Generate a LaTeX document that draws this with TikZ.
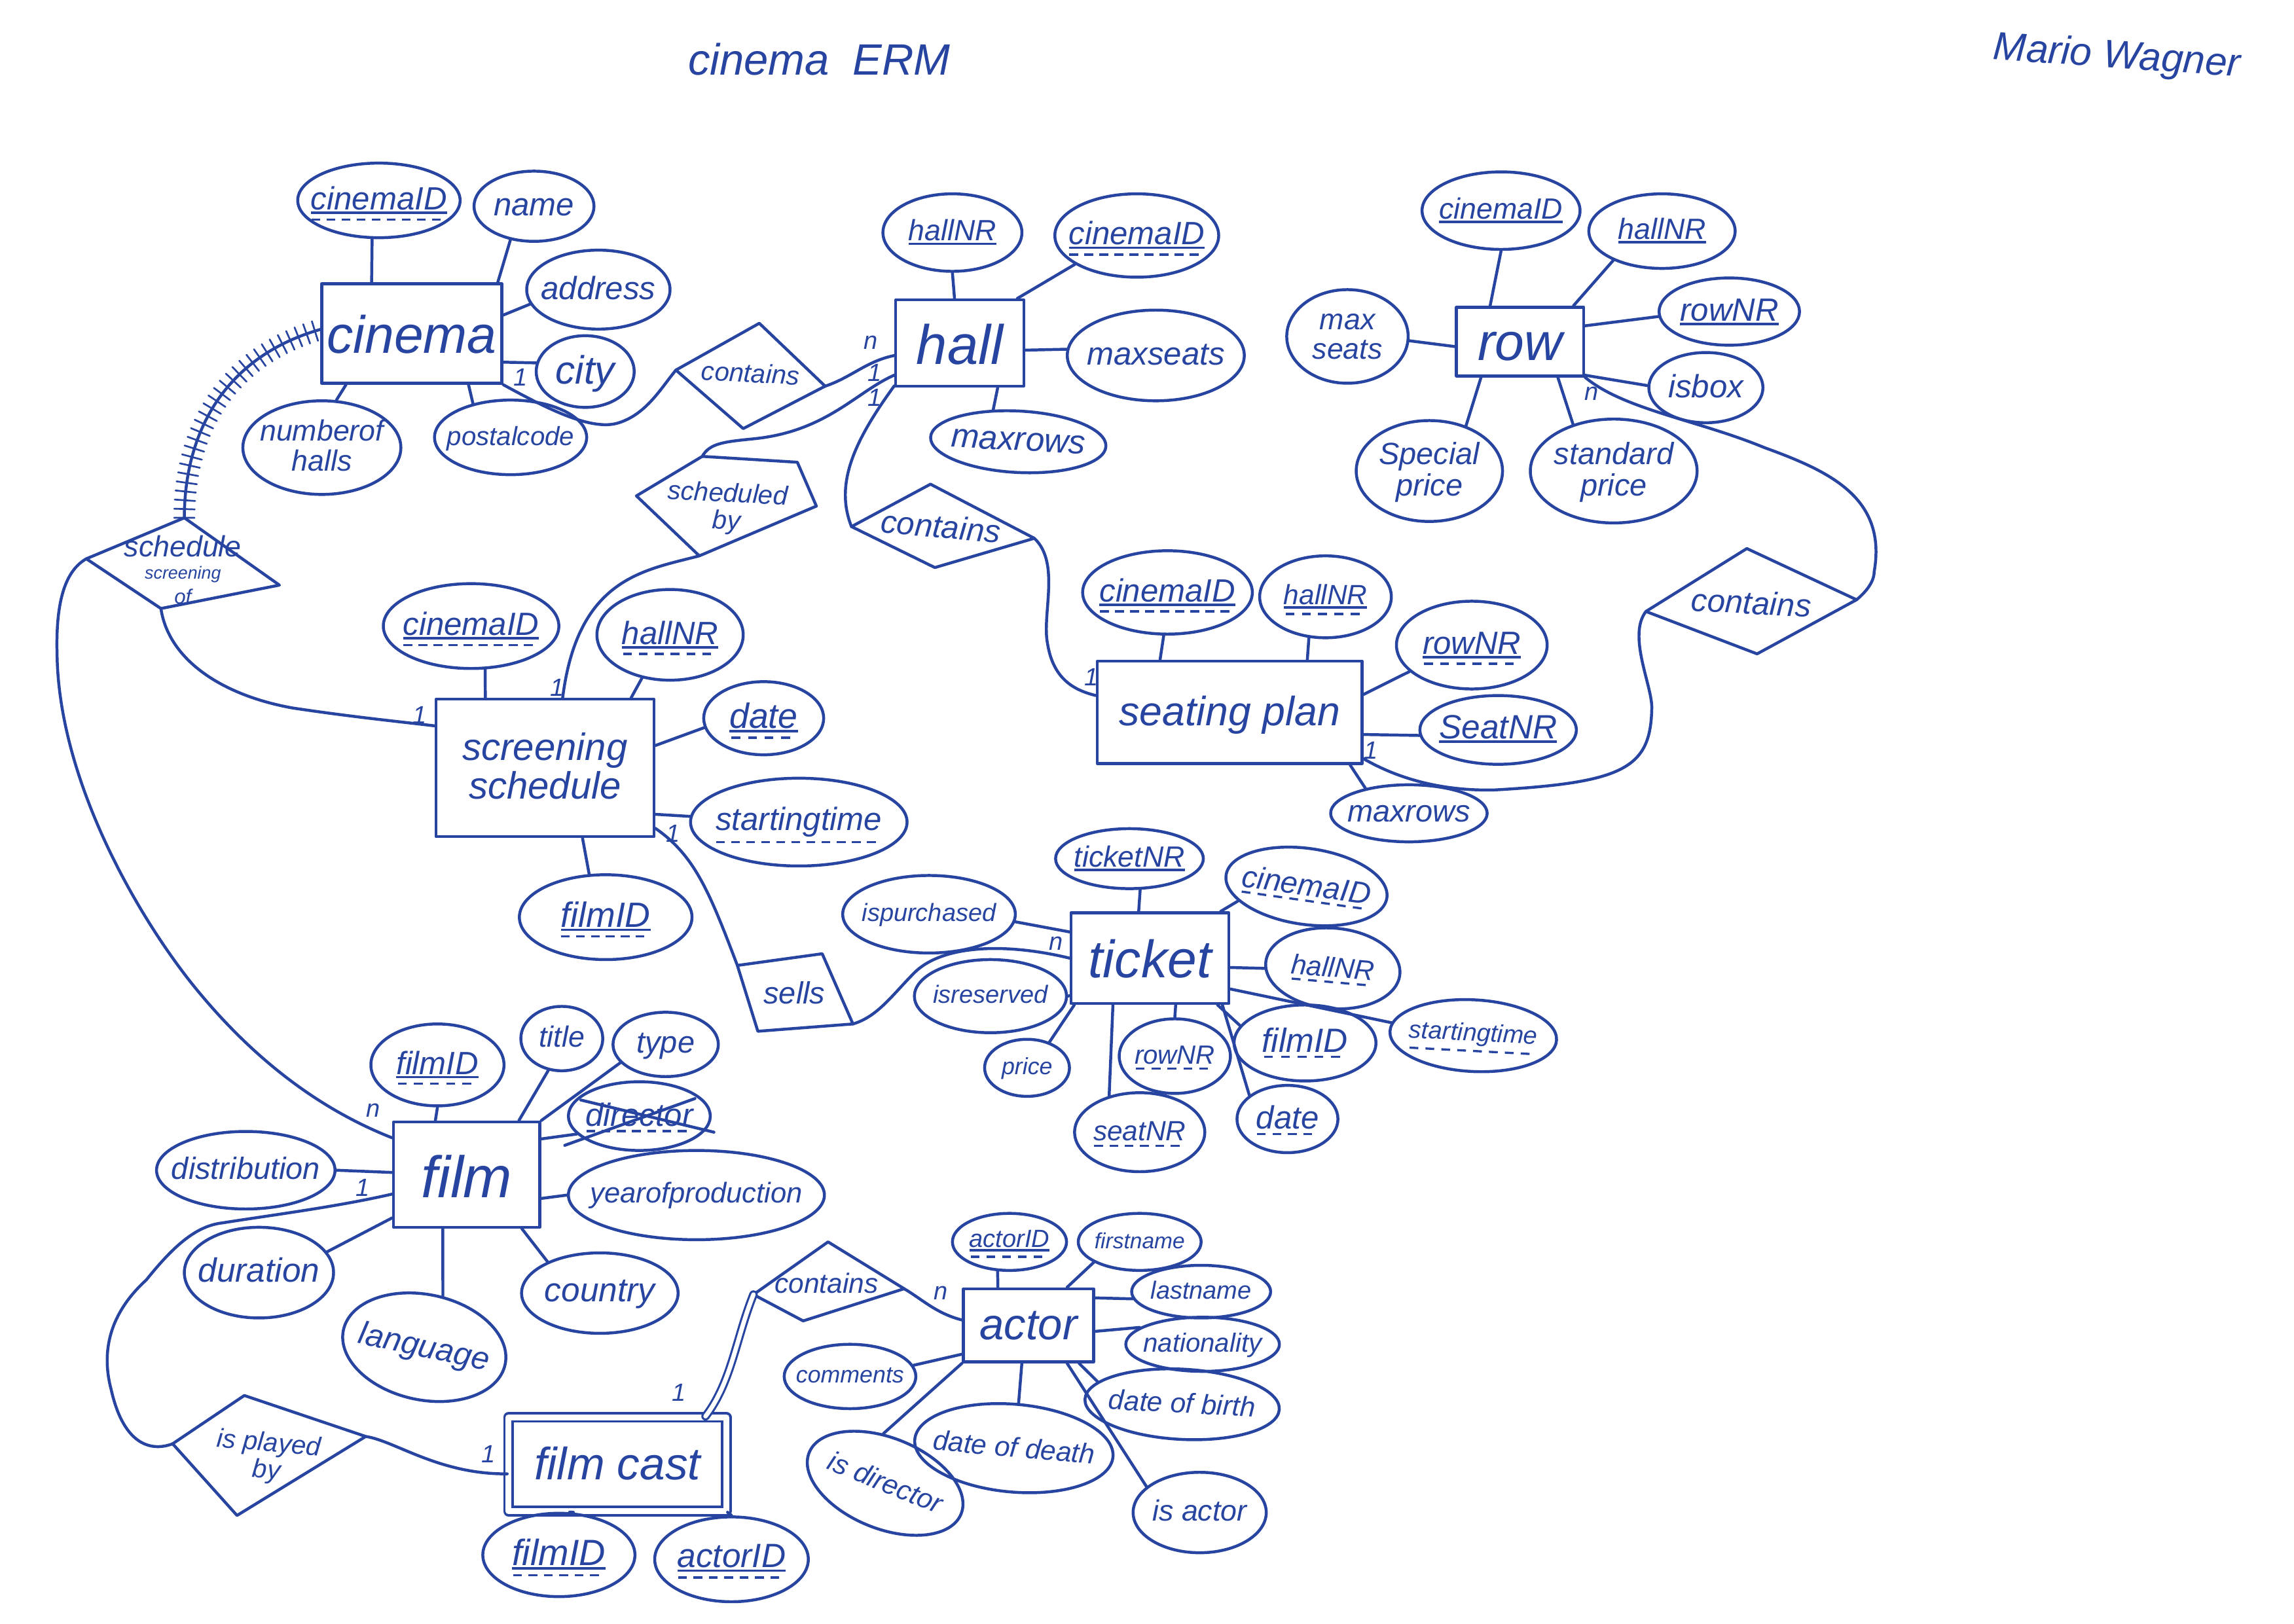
\documentclass[tikz,border=0pt]{standalone}
\usepackage{graphicx}
\usepackage{fontspec}
\setmainfont{Liberation Sans}
\usetikzlibrary{calc,shapes.geometric,decorations.pathreplacing}
\definecolor{pen}{RGB}{38,68,160}
% underlines
\newsavebox\ulbox
\newcommand\dashrow{\hbox to \wd\ulbox{\xleaders\hbox{\vrule width 6pt height 1.5pt depth 0pt\kern 4pt}\hfill}}
\newcommand\pk[1]{\sbox\ulbox{#1}\vtop{\hbox{\usebox\ulbox}\kern 1pt\hrule height 1.7pt}}
\newcommand\fk[1]{\sbox\ulbox{#1}\vtop{\hbox{\usebox\ulbox}\kern 2.5pt\dashrow}}
\newcommand\pf[1]{\sbox\ulbox{#1}\vtop{\hbox{\usebox\ulbox}\kern 1pt\hrule height 1.7pt\kern 3pt\dashrow}}
% centred text of no size, so that a shape keeps the size that is asked for
\newcommand\ctext[1]{\smash{\makebox[0pt]{\raisebox{-.33em}{$\vcenter{\hbox{\begin{tabular}{@{}c@{}}#1\end{tabular}}}$}}}}
\newcommand\fsz[1]{\fontsize{#1}{#1}\selectfont}
\tikzset{
  inkline/.style={draw=pen,line width=2pt,line cap=round,line join=round},
  attrbox/.style={ellipse,inkline,inner sep=0pt,text=pen},
  entbox/.style={rectangle,inkline,inner sep=0pt,text=pen},
  relword/.style={inner sep=0pt,text=pen},
  cardword/.style={inner sep=0pt,text=pen,font=\fsz{17}\itshape},
  link/.style={inkline},
  hatched/.style={inkline,postaction={draw=pen,line width=1.2pt,decorate,decoration={ticks,segment length=6pt,amplitude=7pt}}},
  doubled/.style={draw=pen,line width=1.4pt,double=white,double distance=3pt,line cap=round}
}
% \atb[opts]{name}{x}{y}{w}{h}{size}{text}
\newcommand\atb[8][]{\node[attrbox,minimum width=#5pt,minimum height=#6pt,font=\fsz{#7}\itshape,#1] (#2) at (#3,#4) {\ctext{#8}};}
\newcommand\ent[8][]{\node[entbox,minimum width=#5pt,minimum height=#6pt,font=\fsz{#7}\itshape,#1] (#2) at (#3,#4) {\ctext{#8}};}
\newcommand\rel[6][]{\node[relword,font=\fsz{#5}\itshape,#1] (#2) at (#3,#4) {\ctext{#6}};}
\newcommand\crd[4]{\node[cardword] (#1) at (#2,#3) {#4};}
% points along the sides of a box
\newcommand\eT[2]{($(#1.north west)!#2!(#1.north east)$)}
\newcommand\eB[2]{($(#1.south west)!#2!(#1.south east)$)}
\newcommand\eL[2]{($(#1.north west)!#2!(#1.south west)$)}
\newcommand\eR[2]{($(#1.north east)!#2!(#1.south east)$)}
\begin{document}
\begin{tikzpicture}[x=1pt,y=-1pt]
\useasboundingbox (0,0) rectangle (1568,1109.8);
\fill[white] (0,0) rectangle (1568,1109.8);
% titles
\rel{title}{560}{41}{30}{cinema\hspace{16pt}ERM}
\rel[rotate=-4]{author}{1447}{38}{27}{Mario Wagner}
% entities
\ent{cinema}{281.5}{228}{123}{68}{36}{cinema}
\ent{hall}{656}{234.5}{87.5}{59}{38}{hall}
\ent{row}{1039}{233.5}{87}{47}{36}{row}
\ent{seating}{840.5}{487}{181}{70}{28}{seating plan}
\ent{screening}{372.5}{525}{149}{94}{26}{screening\\schedule}
\ent{ticket}{786}{655}{108}{62}{36}{ticket}
\ent{actor}{703}{906}{89}{50}{30}{actor}
\ent{film}{319}{803}{100}{72}{40}{film}
\ent[double=white,double distance=4pt,line width=1.6pt]{filmcast}{422}{1001}{149}{64}{31}{film cast}
% relationship shapes
\coordinate (d1l) at (462,253); \coordinate (d1t) at (519,221); \coordinate (d1r) at (564,264); \coordinate (d1b) at (508,293);
\draw[inkline] (d1l)--(d1t)--(d1r)--(d1b)--cycle;
\rel[rotate=-3]{contA}{513}{256}{18}{contains}
\coordinate (d2l) at (435,339); \coordinate (d2t) at (480,312); \coordinate (d2u) at (545,316); \coordinate (d2r) at (558,346); \coordinate (d2b) at (478,380);
\draw[inkline] (d2l)--(d2t)--(d2u)--(d2r)--(d2b)--cycle;
\rel[rotate=-3]{schedby}{497}{347}{18}{scheduled\\by}
\coordinate (d3l) at (582,360); \coordinate (d3t) at (636,331); \coordinate (d3r) at (707,368); \coordinate (d3b) at (639,388);
\draw[inkline] (d3l)--(d3t)--(d3r)--(d3b)--cycle;
\rel[rotate=-5]{contB}{643}{361}{22}{contains}
\coordinate (d4l) at (1125,418); \coordinate (d4t) at (1194,375); \coordinate (d4r) at (1269,410); \coordinate (d4b) at (1201,447);
\draw[inkline] (d4l)--(d4t)--(d4r)--(d4b)--cycle;
\rel[rotate=-3]{contC}{1197}{413}{22}{contains}
\coordinate (d5l) at (59,382); \coordinate (d5t) at (126,354); \coordinate (d5r) at (191,400); \coordinate (d5b) at (110,416);
\draw[inkline] (d5l)--(d5t)--(d5r)--(d5b)--cycle;
\rel{schedof}{125}{391}{20}{schedule\\[-5pt]{\fsz{12}screening}\\[-3pt]{\fsz{14}of}}
\coordinate (d6a) at (504,660); \coordinate (d6b) at (562,652); \coordinate (d6c) at (583,700); \coordinate (d6d) at (518,705);
\draw[inkline] (d6a)--(d6b)--(d6c)--(d6d)--cycle;
\rel{sells}{543}{680}{21}{sells}
\coordinate (d7l) at (515,885); \coordinate (d7t) at (566,849); \coordinate (d7r) at (618,881); \coordinate (d7b) at (549,903);
\draw[inkline] (d7l)--(d7t)--(d7r)--(d7b)--cycle;
\rel{contD}{565}{878}{19}{contains}
\coordinate (d8l) at (118,987); \coordinate (d8t) at (167,954); \coordinate (d8r) at (250,982); \coordinate (d8b) at (162,1036);
\draw[inkline] (d8l)--(d8t)--(d8r)--(d8b)--cycle;
\rel[rotate=-5]{played}{183}{996}{18}{is played\\by}
% cinema attributes
\atb{cinemaIDa}{259}{137}{111}{51}{22}{\pf{cinemaID}}
\atb{namea}{365}{141}{82}{48}{22}{name}
\atb{addressa}{409}{198}{98}{54}{22}{address}
\atb{citya}{400}{254}{67}{49}{27}{city}
\atb{hallsa}{220}{306}{108}{64}{20}{numberof\\halls}
\atb{postala}{349}{299}{104}{51}{18}{postalcode}
\draw[link] (cinemaIDa.260) -- \eT{cinema}{.28};
\draw[link] (namea.235) -- \eT{cinema}{.97};
\draw[link] (addressa.192) -- \eR{cinema}{.32};
\draw[link] (citya.170) -- \eR{cinema}{.78};
\draw[link] (hallsa.73) -- \eB{cinema}{.14};
\draw[link] (postala.138) -- \eB{cinema}{.81};
% hall attributes
\atb{hallNRb}{651}{159}{95}{53}{20}{\pk{hallNR}}
\atb{cinemaIDb}{777}{161}{112}{57}{22}{\pf{cinemaID}}
\atb{maxseatsb}{790}{243}{121}{62}{22}{maxseats}
\atb[rotate=-3]{maxrowsb}{696}{302}{120}{42}{23}{maxrows}
\draw[link] (hallNRb.270) -- \eT{hall}{.46};
\draw[link] (cinemaIDb.205) -- \eT{hall}{.94};
\draw[link] (maxseatsb.176) -- \eR{hall}{.58};
\draw[link] (maxrowsb.131) -- \eB{hall}{.79};
% row attributes
\atb{cinemaIDc}{1026}{144}{108}{53}{20}{\pk{cinemaID}}
\atb{hallNRc}{1136}{158}{100}{51}{20}{\pk{hallNR}}
\atb{rowNRc}{1182}{213}{96}{46}{22}{\pk{rowNR}}
\atb{isboxc}{1166}{265}{78}{48}{22}{isbox}
\atb{maxseatsc}{921}{230}{83}{64}{20}{max\\seats}
\atb{specialc}{977}{322}{100}{69}{21}{Special\\price}
\atb{standardc}{1103}{322}{114}{71}{21}{standard\\price}
\draw[link] (cinemaIDc.270) -- \eT{row}{.27};
\draw[link] (hallNRc.211) -- \eT{row}{.91};
\draw[link] (rowNRc.184) -- \eR{row}{.28};
\draw[link] (isboxc.178) -- \eR{row}{.97};
\draw[link] (maxseatsc.356) -- \eL{row}{.57};
\draw[link] (specialc.51) -- \eB{row}{.2};
\draw[link] (standardc.131) -- \eB{row}{.79};
% seating plan attributes
\atb{cinemaIDd}{798}{405}{116}{57}{22}{\pf{cinemaID}}
\atb{hallNRd}{906}{408}{90}{56}{19}{\pf{hallNR}}
\atb{rowNRd}{1006}{441}{103}{60}{22}{\pf{rowNR}}
\atb{seatNRd}{1024}{499}{107}{47}{23}{\pk{SeatNR}}
\atb{maxrowsd}{963}{556}{107}{39}{21}{maxrows}
\draw[link] (cinemaIDd.265) -- \eT{seating}{.24};
\draw[link] (hallNRd.248) -- \eT{seating}{.79};
\draw[link] (rowNRd.203) -- \eR{seating}{.33};
\draw[link] (seatNRd.184) -- \eR{seating}{.71};
\draw[link] (maxrowsd.150) -- \eB{seating}{.95};
% screening schedule attributes
\atb{cinemaIDe}{322}{428}{120}{58}{22}{\pf{cinemaID}}
\atb{hallNRe}{458}{434}{100}{62}{22}{\pf{hallNR}}
\atb{datee}{522}{491}{82}{50}{24}{\pf{date}}
\atb{starte}{546}{562}{148}{60}{22}{\fk{startingtime}}
\atb{filmIDe}{414}{627}{118}{58}{24}{\pf{filmID}}
\draw[link] (cinemaIDe.288) -- \eT{screening}{.23};
\draw[link] (hallNRe.237) -- \eT{screening}{.89};
\draw[link] (datee.189) -- \eR{screening}{.34};
\draw[link] (starte.177) -- \eR{screening}{.83};
\draw[link] (filmIDe.111) -- \eB{screening}{.67};
% ticket attributes
\atb{ticketNRf}{772}{587}{101}{41}{20}{\pk{ticketNR}}
\atb[rotate=-8]{cinemaIDf}{893}{606}{111}{52}{21}{\fk{cinemaID}}
\atb[rotate=-5]{hallNRf}{911}{662}{92}{55}{19}{\fk{hallNR}}
\atb[rotate=-3]{startf}{1007}{708}{114}{49}{17}{\fk{startingtime}}
\atb{filmIDf}{892}{713}{97}{52}{23}{\fk{filmID}}
\atb{datef}{880}{765}{69}{46}{22}{\fk{date}}
\atb{rowNRf}{803}{722}{76}{51}{18}{\fk{rowNR}}
\atb{seatNRf}{779}{774}{89}{54}{19}{\fk{seatNR}}
\atb{pricef}{702}{730}{58}{39}{16}{price}
\atb{reservedf}{677}{681}{104}{50}{17}{isreserved}
\atb{purchasedf}{635}{625}{118}{53}{17}{ispurchased}
\draw[link] (ticketNRf.289) -- \eT{ticket}{.43};
\draw[link] (cinemaIDf.200) -- \eT{ticket}{.94};
\draw[link] (hallNRf.185) -- \eR{ticket}{.6};
\draw[link] (startf.174) -- \eR{ticket}{.83};
\draw[link] (filmIDf.165) -- \eB{ticket}{.92};
\draw[link] (datef.148) -- \eB{ticket}{.95};
\draw[link] (rowNRf.90) -- \eB{ticket}{.66};
\draw[link] (seatNRf.130) -- \eB{ticket}{.27};
\draw[link] (pricef.49) -- \eB{ticket}{.03};
\draw[link] (reservedf.east) -- \eL{ticket}{.9};
\draw[link] (purchasedf.355) -- \eL{ticket}{.22};
% actor attributes
\atb{actorIDg}{690}{849}{78}{39}{17}{\pf{actorID}}
\atb{firstg}{779}{849}{84}{39}{15}{firstname}
\atb{lastg}{821}{883}{95}{36}{17}{lastname}
\atb{natg}{822}{919}{105}{37}{18}{nationality}
\atb[rotate=-3]{birthg}{808}{960}{133}{48}{19}{date of birth}
\atb{isactorg}{820}{1034}{91}{55}{20}{is actor}
\atb[rotate=-5]{deathg}{693}{990}{136}{60}{19}{date of death}
\atb[rotate=-22]{directorg}{605}{1014}{112}{62}{19}{is director}
\atb{commentsg}{581}{941}{90}{44}{16}{comments}
\draw[link] (actorIDg.248) -- \eT{actor}{.27};
\draw[link] (firstg.204) -- \eT{actor}{.79};
\draw[link] (lastg.186) -- \eR{actor}{.14};
\draw[link] (natg.165) -- \eR{actor}{.58};
\draw[link] (birthg.168) -- \eB{actor}{.88};
\draw[link] (isactorg.154) -- \eB{actor}{.79};
\draw[link] (deathg.89) -- \eB{actor}{.45};
\draw[link] (directorg.114) -- \eB{actor}{0};
\draw[link] (commentsg.10) -- \eL{actor}{.88};
% film attributes
\atb{filmIDh}{299}{728}{91}{56}{22}{\pf{filmID}}
\atb{titleh}{384}{710}{56}{44}{20}{title}
\atb{typeh}{455}{714}{72}{44}{21}{type}
\atb{directorh}{437}{763}{97}{47}{22}{\fk{director}}
\draw[link] ([shift={(-51,20)}]directorh.center) -- ([shift={(38,-12)}]directorh.center);
\draw[link] ([shift={(-40,-11)}]directorh.center) -- ([shift={(51,11)}]directorh.center);
\atb{yearh}{476}{817}{175}{61}{19.5}{yearofproduction}
\atb{countryh}{410}{884}{107}{55}{23}{country}
\atb[rotate=-12]{languageh}{290}{921}{113}{72}{22}{language}
\atb{durationh}{177}{870}{102}{62}{23}{duration}
\atb{distributionh}{168}{800}{122}{53}{21}{distribution}
\draw[link] (filmIDh.270) -- \eT{film}{.29};
\draw[link] (titleh.247) -- \eT{film}{.85};
\draw[link] (typeh.202) -- (film.north east);
\draw[link] (directorh.196) -- \eR{film}{.17};
\draw[link] (yearh.180) -- \eR{film}{.72};
\draw[link] (countryh.149) -- \eB{film}{.87};
\draw[link] (languageh.82) -- \eB{film}{.34};
\draw[link] (durationh.17) -- \eL{film}{.9};
\draw[link] (distributionh.0) -- \eL{film}{.48};
% film cast attributes
\atb{filmIDi}{382}{1063}{104}{57}{25}{\pf{filmID}}
\atb{actorIDi}{500}{1066}{105}{58}{23}{\pf{actorID}}
\draw[link] (filmIDi.76) -- \eB{filmcast}{.3};
\draw[link] (actorIDi.90) -- (filmcast.south east);
% relationship connectors
\draw[link] (cinema.south east) .. controls (375,280) and (405,295) .. (423,289) .. controls (442,283) and (452,265) .. (d1l);
\draw[link] (d1r) .. controls (582,258) and (592,247) .. \eL{hall}{.64};
\draw[link] \eL{hall}{.86} .. controls (585,268) and (565,295) .. (515,300) .. controls (495,302) and (485,303) .. (d2t);
\draw[link] (d2b) .. controls (440,390) and (395,395) .. \eT{screening}{.58};
\draw[link] \eL{hall}{.98} .. controls (585,300) and (570,330) .. (d3l);
\draw[link] (d3r) .. controls (725,385) and (712,420) .. (716,440) .. controls (720,465) and (735,472) .. \eL{seating}{.34};
\draw[link] (row.south east) .. controls (1110,280) and (1160,287) .. (1206,306) .. controls (1250,322) and (1290,340) .. (1281,391) .. controls (1281,398) and (1275,405) .. (d4r);
\draw[link] (d4l) .. controls (1112,435) and (1130,470) .. (1129,485) .. controls (1128,525) and (1110,535) .. (1022,540) .. controls (985,541) and (955,532) .. \eR{seating}{.94};
\draw[hatched] (d5t) .. controls (126,300) and (150,245) .. \eL{cinema}{.46};
\draw[link] (d5b) .. controls (115,450) and (150,475) .. (200,484) .. controls (240,490) and (270,493) .. \eL{screening}{.2};
\draw[link] (d5l) .. controls (45,390) and (38,410) .. (39,447) .. controls (40,530) and (90,620) .. (130,671) .. controls (165,715) and (210,755) .. \eL{film}{.16};
\draw[link] \eR{screening}{.93} .. controls (475,585) and (485,610) .. (d6a);
\draw[link] (d6c) .. controls (600,695) and (610,680) .. (625,665) .. controls (645,645) and (690,645) .. \eL{ticket}{.5};
\draw[link] (d7r) .. controls (630,888) and (640,898) .. \eL{actor}{.43};
\draw[doubled] (d7l) .. controls (503,915) and (500,945) .. \eT{filmcast}{.9};
\draw[link] (d8l) .. controls (105,992) and (85,990) .. (76,950) .. controls (68,920) and (78,895) .. (100,875) .. controls (120,850) and (135,838) .. (152,836) .. controls (190,830) and (230,825) .. \eL{film}{.68};
\draw[link] (d8r) .. controls (270,985) and (300,1008) .. \eL{filmcast}{.6};
% cardinalities
\crd{k1}{356}{258}{1}
\crd{k2}{595}{234}{n}
\crd{k3}{598}{255}{1}
\crd{k4}{598}{272}{1}
\crd{k5}{381}{470}{1}
\crd{k6}{746}{463}{1}
\crd{k7}{1088}{269}{n}
\crd{k8}{937}{513}{1}
\crd{k9}{287}{489}{1}
\crd{k10}{255}{759}{n}
\crd{k11}{460}{570}{1}
\crd{k12}{722}{645}{n}
\crd{k13}{643}{884}{n}
\crd{k14}{464}{952}{1}
\crd{k15}{248}{812}{1}
\crd{k16}{334}{994}{1}
\end{tikzpicture}
\end{document}
